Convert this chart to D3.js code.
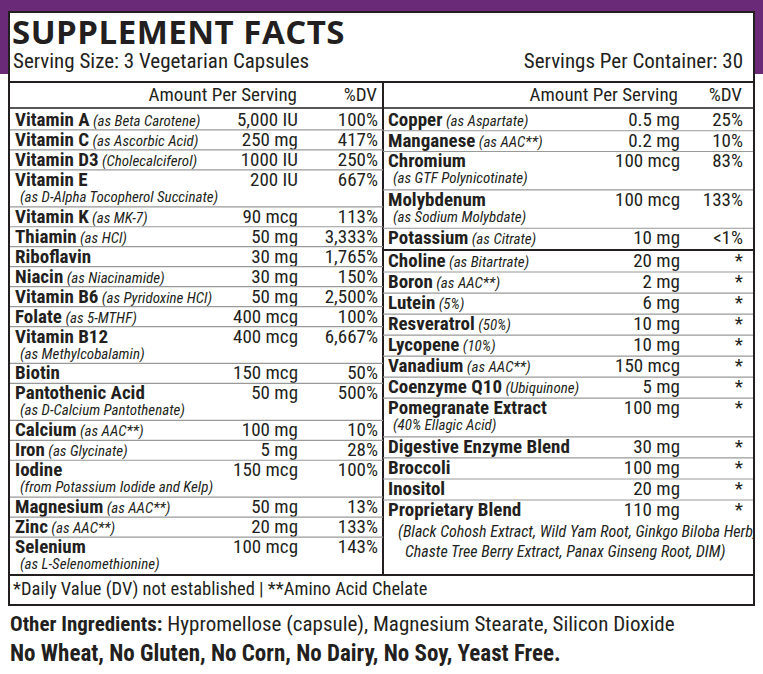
<!DOCTYPE html><html><head><meta charset="utf-8"><script src="https://cdn.jsdelivr.net/npm/d3@7"></script>
<style>body{margin:0;background:#fff}text{font-family:"Liberation Sans Narrow","Roboto Condensed",Roboto,sans-serif;fill:#231f20}</style></head><body>
<script>
const leftNames=["Vitamin A","Vitamin C","Vitamin D3","Vitamin E","Vitamin K","Thiamin","Riboflavin","Niacin","Vitamin B6","Folate","Vitamin B12","Biotin","Pantothenic Acid","Calcium","Iron","Iodine","Magnesium","Zinc","Selenium"];
const leftSubs=["(as Beta Carotene)","(as Ascorbic Acid)","(Cholecalciferol)","(as D-Alpha Tocopherol Succinate)","(as MK-7)","(as HCl)","","(as Niacinamide)","(as Pyridoxine HCl)","(as 5-MTHF)","(as Methylcobalamin)","","(as D-Calcium Pantothenate)","(as AAC**)","(as Glycinate)","(from Potassium Iodide and Kelp)","(as AAC**)","(as AAC**)","(as L-Selenomethionine)"];
const leftSubBelow=[0,0,0,1,0,0,0,0,0,0,1,0,1,0,0,1,0,0,1];
const leftAmounts=["5,000 IU","250 mg","1000 IU","200 IU","90 mcg","50 mg","30 mg","30 mg","50 mg","400 mcg","400 mcg","150 mcg","50 mg","100 mg","5 mg","150 mcg","50 mg","20 mg","100 mcg"];
const leftDV=["100%","417%","250%","667%","113%","3,333%","1,765%","150%","2,500%","100%","6,667%","50%","500%","10%","28%","100%","13%","133%","143%"];
const rightNames=["Copper","Manganese","Chromium","Molybdenum","Potassium","Choline","Boron","Lutein","Resveratrol","Lycopene","Vanadium","Coenzyme Q10","Pomegranate Extract","Digestive Enzyme Blend","Broccoli","Inositol","Proprietary Blend"];
const rightSubs=["(as Aspartate)","(as AAC**)","(as GTF Polynicotinate)","(as Sodium Molybdate)","(as Citrate)","(as Bitartrate)","(as AAC**)","(5%)","(50%)","(10%)","(as AAC**)","(Ubiquinone)","(40% Ellagic Acid)","","","",""];
const rightSubBelow=[0,0,1,1,0,0,0,0,0,0,0,0,1,0,0,0,0];
const rightAmounts=["0.5 mg","0.2 mg","100 mcg","100 mcg","10 mg","20 mg","2 mg","6 mg","10 mg","10 mg","150 mcg","5 mg","100 mg","30 mg","100 mg","20 mg","110 mg"];
const rightDV=["25%","10%","83%","133%","<1%","*","*","*","*","*","*","*","*","*","*","*","*"];
const blendLines=["(Black Cohosh Extract, Wild Yam Root, Ginkgo Biloba Herb,","Chaste Tree Berry Extract, Panax Ginseng Root, DIM)"];

const W=763,H=674,purple="#6b2a78";
const svg=d3.select("body").append("svg").attr("width",W).attr("height",H);
svg.append("rect").attr("width",W).attr("height",74).attr("fill",purple);
svg.append("rect").attr("x",9).attr("y",12).attr("width",745).attr("height",593).attr("fill","#fff").attr("stroke","#231f20").attr("stroke-width",2);
svg.append("text").attr("x",12).attr("y",44).attr("font-size",33).attr("font-weight","bold").style("font-family","'Open Sans',sans-serif").attr("letter-spacing",0.5).text("SUPPLEMENT FACTS");
svg.append("text").attr("x",13).attr("y",68).attr("font-size",21).text("Serving Size: 3 Vegetarian Capsules");
svg.append("text").attr("x",743).attr("y",68).attr("font-size",21).attr("text-anchor","end").text("Servings Per Container: 30");
svg.append("line").attr("x1",9).attr("x2",754).attr("y1",82).attr("y2",82).attr("stroke","#231f20").attr("stroke-width",2);
svg.append("line").attr("x1",383).attr("x2",383).attr("y1",82).attr("y2",575).attr("stroke","#231f20").attr("stroke-width",2);
svg.append("line").attr("x1",9).attr("x2",754).attr("y1",575).attr("y2",575).attr("stroke","#231f20").attr("stroke-width",2);
[[297,377],[678,742]].forEach(([a,b])=>{
 svg.append("text").attr("x",a).attr("y",101).attr("font-size",19).attr("text-anchor","end").text("Amount Per Serving");
 svg.append("text").attr("x",b).attr("y",101).attr("font-size",19).attr("text-anchor","end").text("%DV");});
svg.append("line").attr("x1",9).attr("x2",754).attr("y1",108).attr("y2",108).attr("stroke","#231f20").attr("stroke-width",1.5);

function column(names,subs,below,amts,dvs,x0,x1,xa,xd,segments){
 segments.forEach(([s,e,y0,y1])=>{
  const idx=d3.range(s,e);
  const weights=idx.map(i=>below[i]?1.85:1);
  const total=d3.sum(weights);
  const scale=d3.scaleLinear().domain([0,total]).range([y0,y1]);
  let acc=0;
  idx.forEach((i,k)=>{
   const top=scale(acc);acc+=weights[k];const bot=scale(acc);
   const base=top+16;
   const t=svg.append("text").attr("x",x0+5).attr("y",base).attr("font-size",19);
   t.append("tspan").attr("font-weight","bold").text(names[i]);
   if(subs[i]&&!below[i]) t.append("tspan").attr("font-style","italic").attr("font-size",15).text(" "+subs[i]);
   if(subs[i]&&below[i]) svg.append("text").attr("x",x0+10).attr("y",base+16).attr("font-size",15).attr("font-style","italic").text(subs[i]);
   svg.append("text").attr("x",xa).attr("y",base).attr("font-size",19).attr("text-anchor","end").text(amts[i]);
   svg.append("text").attr("x",xd).attr("y",base).attr("font-size",19).attr("text-anchor","end").text(dvs[i]);
   if(k<idx.length-1) svg.append("line").attr("x1",x0).attr("x2",x1).attr("y1",bot).attr("y2",bot).attr("stroke","#999").attr("stroke-width",1.2);
  });
 });
}
column(leftNames,leftSubs,leftSubBelow,leftAmounts,leftDV,10,383,298,378,[[0,19,110,574]]);
column(rightNames,rightSubs,rightSubBelow,rightAmounts,rightDV,383,753,680,743,[[0,5,110,249],[5,16,251,500],[16,17,500,520]]);
svg.append("line").attr("x1",383).attr("x2",753).attr("y1",250).attr("y2",250).attr("stroke","#231f20").attr("stroke-width",2);
svg.append("line").attr("x1",383).attr("x2",753).attr("y1",500).attr("y2",500).attr("stroke","#999").attr("stroke-width",1.2);
blendLines.forEach((l,i)=>svg.append("text").attr("x",i?405:398).attr("y",537+i*20).attr("font-size",16).attr("font-style","italic").text(l));
svg.append("text").attr("x",13).attr("y",595).attr("font-size",18.5).text("*Daily Value (DV) not established  |  **Amino Acid Chelate");
const oi=svg.append("text").attr("x",10).attr("y",631).attr("font-size",21);
oi.append("tspan").attr("font-weight","bold").text("Other Ingredients: ");
oi.append("tspan").text("Hypromellose (capsule), Magnesium Stearate, Silicon Dioxide");
svg.append("text").attr("x",10).attr("y",661).attr("font-size",23).attr("font-weight","bold").text("No Wheat, No Gluten, No Corn, No Dairy, No Soy, Yeast Free.");
</script></body></html>
